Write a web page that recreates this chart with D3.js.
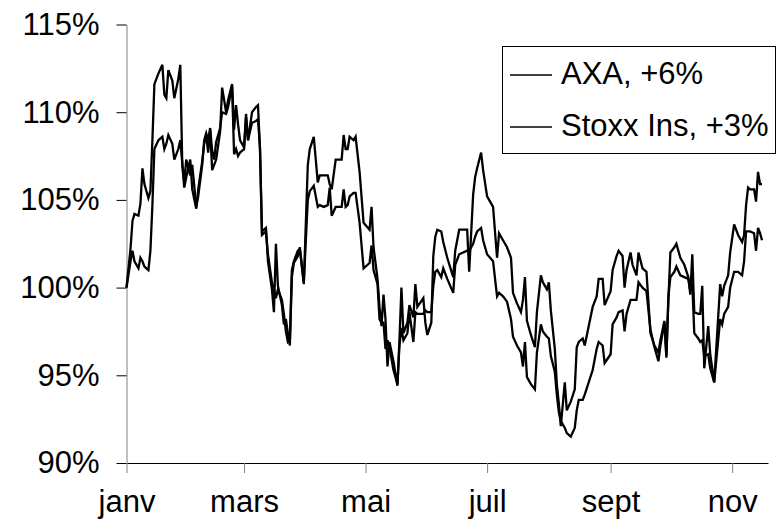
<!DOCTYPE html>
<html>
<head>
<meta charset="utf-8">
<script src="https://cdn.jsdelivr.net/npm/d3@7"></script>
<style>
  body { margin: 0; background: #fff; }
  text { font-family: "Liberation Sans", Arial, sans-serif; }
</style>
</head>
<body>
<script>
const svgWidth = 778
const svgHeight = 529

// day offsets from 1 Jan, values in % (base 100)
const days = [0,2,3,4,6,7,8,9,11,12,13,14,16,18,19,20,21,23,24,26,27,28,29,30,32,33,35,36,38,39,40,41,42,43,44,45,47,48,50,51,53,54,55,56,57,59,60,61,63,65,66,67,68,70,71,73,74,75,76,78,79,80,81,82,83,84,86,87,89,91,92,94,96,97,99,101,102,103,105,106,108,109,110,111,112,114,115,117,119,122,123,124,126,127,128,129,130,131,132,134,136,137,138,139,141,142,144,145,146,149,150,151,153,154,155,156,158,159,161,164,165,167,171,172,174,175,176,178,179,181,184,186,187,189,191,193,194,196,198,199,200,201,203,205,206,208,209,211,212,213,215,216,217,218,220,221,223,225,226,227,229,230,232,234,236,237,239,240,243,244,246,247,249,250,251,253,254,256,257,259,261,263,265,267,268,270,271,272,273,275,276,278,280,282,283,284,285,287,288,289,290,292,293,295,298,299,300,302,303,305,307,309,310,311,312,313,315,316,317,318,319]

const axa = [100.0,102.2,103.8,104.2,104.1,104.8,106.8,105.9,105.1,105.5,108.4,111.6,112.2,112.7,111.0,110.8,112.4,111.8,110.8,111.9,112.7,107.0,105.7,106.3,107.3,105.6,104.5,105.6,107.2,108.2,108.7,107.7,109.0,106.7,107.0,107.3,108.9,111.4,110.0,110.7,111.6,109.0,110.4,109.3,108.4,108.0,109.9,108.4,110.0,110.3,110.4,107.9,103.2,103.4,101.5,99.9,98.6,102.5,100.1,99.0,97.9,98.2,97.4,96.7,100.6,101.4,101.8,102.3,100.2,107.0,107.9,108.6,106.0,106.4,106.4,106.4,105.9,105.6,107.3,107.3,107.3,108.7,107.9,107.9,108.6,108.4,108.6,106.6,103.7,103.3,104.6,102.3,100.5,98.9,97.8,99.6,98.2,95.5,96.9,95.8,94.4,97.0,100.0,97.4,98.0,99.0,98.3,100.2,98.9,99.4,98.0,97.3,98.0,101.8,102.9,103.3,103.2,102.6,101.7,100.6,102.1,103.3,103.3,100.9,105.3,106.3,106.8,107.7,106.7,105.2,104.6,101.7,103.1,102.7,102.3,101.7,99.7,99.1,98.6,99.3,100.6,98.1,97.3,96.6,98.6,100.7,100.3,99.9,100.3,98.7,96.5,94.5,93.4,92.1,94.6,93.0,93.5,94.2,96.6,96.9,97.1,96.7,97.8,98.9,99.5,100.5,100.5,99.0,99.8,101.0,101.8,102.1,101.8,100.0,101.0,102.0,101.3,100.7,102.0,101.1,100.9,97.4,96.7,96.3,97.0,98.1,96.1,99.3,102.0,102.3,102.5,101.7,101.3,100.6,99.6,101.9,98.6,98.5,98.5,100.1,95.4,97.8,96.2,94.6,100.2,99.5,100.1,100.7,102.0,103.6,103.0,102.6,103.0,104.7,105.7,105.6,105.6,104.9,106.6,105.9,105.9]

const stoxx = [100.0,101.5,102.1,101.5,101.1,101.7,101.5,101.2,101.0,102.1,104.7,107.9,108.4,108.6,107.9,108.2,108.7,108.2,107.3,107.9,108.4,107.1,106.0,107.3,106.4,107.0,104.6,105.2,107.0,108.4,108.8,108.4,109.1,107.8,107.3,108.3,109.1,110.0,109.9,110.3,111.5,107.6,107.9,107.5,107.7,107.9,109.7,108.4,109.4,109.5,109.6,108.0,103.0,103.2,101.9,100.3,99.9,99.4,99.9,99.3,98.5,97.5,96.9,97.0,101.0,101.5,102.1,102.2,100.3,105.0,105.5,105.8,104.6,104.7,104.6,104.7,105.7,104.1,104.6,104.6,104.6,105.6,104.6,104.7,105.2,105.4,105.4,103.7,101.1,101.4,102.4,101.0,100.2,98.2,98.0,98.0,96.5,97.0,96.6,95.3,94.5,96.7,97.7,97.0,97.4,98.6,96.9,98.6,98.5,98.5,98.7,98.6,98.6,100.1,100.9,101.0,100.6,101.1,100.5,99.7,101.3,101.9,102.1,102.1,102.5,102.9,103.2,103.4,102.7,101.9,101.5,99.5,99.7,99.5,99.2,98.2,97.2,96.7,96.3,95.5,96.9,94.9,94.5,94.2,96.3,97.9,97.5,97.2,97.1,96.1,95.2,93.9,92.9,92.4,92.0,91.7,91.5,92.0,93.0,93.6,93.6,93.9,94.6,95.3,96.5,96.9,96.7,95.7,96.2,97.9,98.3,98.6,98.7,97.5,98.5,99.3,99.3,99.3,100.3,100.0,99.8,97.6,96.6,95.8,96.7,98.0,96.0,99.5,100.6,100.9,101.2,100.7,100.6,100.5,99.8,100.2,97.4,97.1,96.9,97.0,96.1,96.2,95.4,94.6,98.2,97.9,98.5,98.9,100.0,100.9,100.9,100.7,101.5,103.2,103.2,103.2,103.1,102.1,103.4,103.1,102.7]

const yTicks = [90, 95, 100, 105, 110, 115]
const monthLabels = ["janv", "mars", "mai", "juil", "sept", "nov"]
const seriesNames = ["AXA, +6%", "Stoxx Ins, +3%"]

const start = new Date(2005, 0, 1)
const dates = days.map(d => d3.timeDay.offset(start, d))
const monthTicks = monthLabels.map((m, i) => new Date(2005, i * 2, 1))

const svg = d3.select("body").append("svg")
  .attr("width", svgWidth)
  .attr("height", svgHeight)

const x = d3.scaleTime()
  .domain([start, new Date(2005, 10, 19)])
  .range([126.5, 768])

const y = d3.scaleLinear()
  .domain([90, 115])
  .range([463, 24.5])

// y axis
const yAxis = svg.append("g")
  .attr("transform", `translate(${x.range()[0]},0)`)
  .call(d3.axisLeft(y)
    .tickValues(yTicks)
    .tickFormat(d => d + "%")
    .tickSize(10)
    .tickSizeOuter(0)
    .tickPadding(17))
yAxis.select(".domain").attr("stroke", "#808080")
yAxis.selectAll(".tick line").attr("stroke", "#000")
yAxis.selectAll("text")
  .attr("font-size", 31)
  .attr("fill", "#000")
  .attr("font-family", "'Liberation Sans', Arial, sans-serif")

// x axis
const xAxis = svg.append("g")
  .attr("transform", `translate(0,${y(90)})`)
  .call(d3.axisBottom(x)
    .tickValues(monthTicks)
    .tickFormat((d, i) => monthLabels[i])
    .tickSize(10)
    .tickSizeOuter(0)
    .tickPadding(17))
xAxis.select(".domain").attr("stroke", "#000")
xAxis.selectAll(".tick line").attr("stroke", "#808080")
xAxis.selectAll("text")
  .attr("font-size", 31)
  .attr("fill", "#000")
  .attr("font-family", "'Liberation Sans', Arial, sans-serif")

// lines
const line = d3.line()
  .x((d, i) => x(dates[i]))
  .y(d => y(d))

svg.append("path")
  .datum(stoxx)
  .attr("fill", "none")
  .attr("stroke", "#000")
  .attr("stroke-width", 2.3)
  .attr("d", line)

svg.append("path")
  .datum(axa)
  .attr("fill", "none")
  .attr("stroke", "#000")
  .attr("stroke-width", 2.3)
  .attr("d", line)

// legend
const legend = svg.append("g")
legend.append("rect")
  .attr("x", 502.5).attr("y", 46.5)
  .attr("width", 273).attr("height", 107)
  .attr("fill", "#fff")
  .attr("stroke", "#000")

seriesNames.forEach((name, i) => {
  const ly = 75 + i * 52
  legend.append("line")
    .attr("x1", 510).attr("x2", 552)
    .attr("y1", ly).attr("y2", ly)
    .attr("stroke", "#000")
    .attr("stroke-width", 1.5)
  legend.append("text")
    .attr("x", 561)
    .attr("y", ly + 8.5)
    .attr("font-size", 31)
    .text(name)
})
</script>
</body>
</html>
